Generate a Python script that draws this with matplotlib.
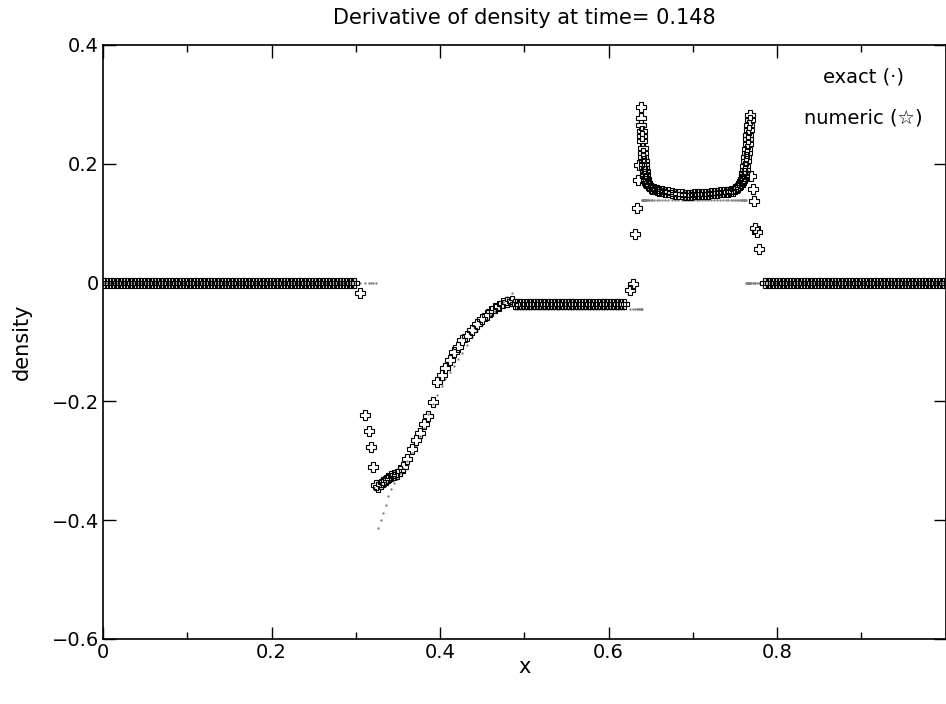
import numpy as np
import matplotlib
matplotlib.use('Agg')
import matplotlib.pyplot as plt
from matplotlib.ticker import MultipleLocator

plt.rcParams['font.family'] = ['DejaVu Sans']

# uniform (untouched) parts of the grid on both sides
step = 0.00333
x_left = np.arange(0.0017, 0.3000, step)
x_right = np.arange(0.7855, 1.0000, step)

# disturbed part of the grid: positions, numeric value, exact value
x_mid = [
    0.3050, 0.3110, 0.3160, 0.3180, 0.3210, 0.3240,
    0.3268, 0.3300, 0.3327, 0.3355, 0.3386, 0.3418, 0.3454, 0.3486, 0.3525, 0.3564,
    0.3612, 0.3664, 0.3711, 0.3763, 0.3814, 0.3861, 0.3913, 0.3961, 0.4020, 0.4059,
    0.4119, 0.4166, 0.4217, 0.4258, 0.4317, 0.4376, 0.4436, 0.4495, 0.4554, 0.4602,
    0.4653, 0.4704, 0.4751, 0.4799, 0.4851,
]
num_mid = [
    -0.017, -0.223, -0.250, -0.277, -0.310, -0.341,
    -0.3434, -0.3395, -0.3356, -0.3323, -0.3282, -0.3255, -0.3232, -0.3215, -0.3171, -0.3097,
    -0.2975, -0.2795, -0.2655, -0.2526, -0.2387, -0.2247, -0.2005, -0.1676, -0.1563, -0.1434,
    -0.1306, -0.1171, -0.1081, -0.0958, -0.0891, -0.0790, -0.0689, -0.0610, -0.0538, -0.0482,
    -0.0425, -0.0398, -0.0341, -0.0324, -0.0314,
]
exact_mid = [
    0.0, 0.0, 0.0, 0.0, 0.0, 0.0,
    -0.413, -0.400, -0.388, -0.374, -0.360, -0.348, -0.338, -0.330, -0.321, -0.312,
    -0.300, -0.287, -0.275, -0.259, -0.244, -0.221, -0.204, -0.189, -0.174, -0.163,
    -0.151, -0.140, -0.129, -0.119, -0.105, -0.092, -0.081, -0.071, -0.062, -0.055,
    -0.047, -0.039, -0.032, -0.025, -0.018,
]

# flat stretch between rarefaction and contact
x_plat = np.arange(0.4885, 0.6200, step)
num_plat = -0.036
exact_plat = -0.045

# contact, shocked shell and shock
x_shell = [
    0.6255, 0.6294, 0.6315, 0.6335, 0.6354, 0.6362,
    0.6380, 0.6384, 0.6388, 0.6392, 0.6396, 0.6400, 0.6404, 0.6408, 0.6412, 0.6416,
    0.6420, 0.6424, 0.6428, 0.6432, 0.6437, 0.6442,
    0.6450, 0.6460, 0.6472, 0.6485, 0.6500, 0.6520, 0.6545, 0.6570, 0.6600, 0.6635,
    0.6670, 0.6710, 0.6750, 0.6790, 0.6830, 0.6870,
    0.6905, 0.6940, 0.6975, 0.7010, 0.7045, 0.7080, 0.7115, 0.7150, 0.7185, 0.7220,
    0.7255, 0.7290, 0.7325, 0.7360, 0.7390,
    0.7420, 0.7450, 0.7478, 0.7500, 0.7520, 0.7538, 0.7555, 0.7570, 0.7583, 0.7595,
    0.7605, 0.7614,
    0.7620, 0.7625, 0.7630, 0.7635, 0.7640, 0.7645, 0.7650, 0.7655, 0.7660, 0.7665,
    0.7670, 0.7675, 0.7680,
    0.7695, 0.7712, 0.7722, 0.7739, 0.7757, 0.7790,
]
num_shell = [
    -0.012, -0.002, 0.081, 0.126, 0.173, 0.198,
    0.296, 0.277, 0.266, 0.256, 0.246, 0.238, 0.226, 0.218, 0.212, 0.205,
    0.199, 0.193, 0.188, 0.183, 0.179, 0.175,
    0.171, 0.167, 0.164, 0.162, 0.160, 0.158, 0.157, 0.156, 0.155, 0.154,
    0.153, 0.152, 0.151, 0.150, 0.149, 0.149,
    0.148, 0.148, 0.148, 0.149, 0.149, 0.149, 0.150, 0.150, 0.150, 0.151,
    0.151, 0.151, 0.152, 0.152, 0.153,
    0.153, 0.154, 0.155, 0.157, 0.159, 0.161, 0.164, 0.167, 0.171, 0.175,
    0.180, 0.185,
    0.190, 0.197, 0.204, 0.211, 0.218, 0.225, 0.233, 0.241, 0.249, 0.257,
    0.265, 0.273, 0.282,
    0.179, 0.158, 0.138, 0.092, 0.085, 0.057,
]
exact_shell = [
    -0.045, -0.045, -0.045, -0.045, -0.045, -0.045,
    -0.045, -0.045, -0.045, -0.045, 0.1395, 0.1395, 0.1395, 0.1395, 0.1395, 0.1395,
    0.1395, 0.1395, 0.1395, 0.1395, 0.1395, 0.1395,
    0.1395, 0.1395, 0.1395, 0.1395, 0.1395, 0.1395, 0.1395, 0.1395, 0.1395, 0.1395,
    0.1395, 0.1395, 0.1395, 0.1395, 0.1395, 0.1395,
    0.1395, 0.1395, 0.1395, 0.1395, 0.1395, 0.1395, 0.1395, 0.1395, 0.1395, 0.1395,
    0.1395, 0.1395, 0.1395, 0.1395, 0.1395,
    0.1395, 0.1395, 0.1395, 0.1395, 0.1395, 0.1395, 0.1395, 0.1395, 0.1395, 0.1395,
    0.1395, 0.1395,
    0.1395, 0.1395, 0.1395, 0.0, 0.0, 0.0, 0.0, 0.0, 0.0, 0.0,
    0.0, 0.0, 0.0,
    0.0, 0.0, 0.0, 0.0, 0.0, 0.0,
]

x_all = np.concatenate([x_left, x_mid, x_plat, x_shell, x_right])
num_all = np.concatenate([np.zeros_like(x_left), num_mid, np.full_like(x_plat, num_plat),
                          num_shell, np.zeros_like(x_right)])
exact_all = np.concatenate([np.zeros_like(x_left), exact_mid, np.full_like(x_plat, exact_plat),
                            exact_shell, np.zeros_like(x_right)])

fig = plt.figure(figsize=(9.46, 7.04), dpi=100)
ax = fig.add_axes([103 / 946, 1 - 639 / 704, 842.5 / 946, 594 / 704])

ax.plot(x_all, exact_all, linestyle='none', marker='.', ms=1.4, color='0.5', zorder=2)
ax.plot(x_all, num_all, linestyle='none', marker='P', ms=7, mfc='none', mec='k', mew=0.8, zorder=3)

ax.set_xlim(0, 1.0)
ax.set_ylim(-0.6, 0.4)
ax.xaxis.set_minor_locator(MultipleLocator(0.1))
ax.set_xticks([0, 0.2, 0.4, 0.6, 0.8])
ax.set_xticklabels(['0', '0.2', '0.4', '0.6', '0.8'])
ax.set_yticks([-0.6, -0.4, -0.2, 0, 0.2, 0.4])
ax.set_yticklabels(['\u22120.6', '\u22120.4', '\u22120.2', '0', '0.2', '0.4'])
ax.tick_params(which='both', direction='in', top=True, right=True, labelsize=14, width=1, colors='k')
ax.tick_params(which='major', length=9)
ax.tick_params(axis='x', which='major', pad=3)
ax.tick_params(axis='y', which='major', pad=3)
ax.tick_params(which='minor', length=5)
for s in ax.spines.values():
    s.set_linewidth(1.2)

ax.set_title('Derivative of density at time= 0.148', fontsize=15, pad=15)
ax.set_xlabel('x', fontsize=15, labelpad=-4)
ax.set_ylabel('density', fontsize=15, labelpad=14)

ax.text(0.903, 0.946, 'exact (\u00b7)', transform=ax.transAxes, ha='center', va='center', fontsize=14)
ax.text(0.903, 0.877, 'numeric (\u2606)', transform=ax.transAxes, ha='center', va='center', fontsize=14)

fig.savefig('out.png', dpi=100)
